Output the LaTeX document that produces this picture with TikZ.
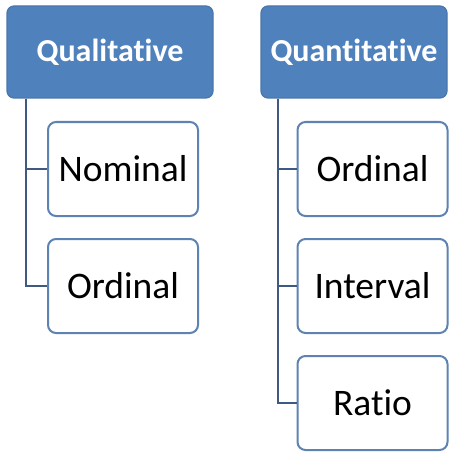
\documentclass[tikz,border=0pt]{standalone}
\usepackage{fontspec}
\setmainfont{Carlito}[Ligatures={NoCommon}]
\definecolor{hdrfill}{HTML}{4F81BD}
\definecolor{hdrdraw}{HTML}{4A76AC}
\definecolor{kiddraw}{HTML}{5E83B2}
\definecolor{conncol}{HTML}{3E5A80}
\begin{document}
\begin{tikzpicture}[x=1pt,y=-1pt,
  hdr/.style={draw=hdrdraw,fill=hdrfill,line width=1.2pt,rounded corners=7pt,inner sep=0pt,
    minimum height=92pt,text=white,font=\fontsize{32}{38}\selectfont\bfseries},
  kid/.style={draw=kiddraw,fill=white,line width=2pt,rounded corners=8pt,inner sep=0pt,
    minimum width=150pt,minimum height=94pt,text=black,font=\fontsize{37.5}{44}\selectfont},
  conn/.style={draw=conncol,line width=2pt}]
\useasboundingbox (0,0) rectangle (476,468);
% headers
\node[hdr,minimum width=206pt] (qual) at (110,52) {Qualitative};
\node[hdr,minimum width=186pt] (quant) at (354,52) {Quantitative};
% left children
\node[kid] (nom) at (123,169) {Nominal};
\node[kid] (ordL) at (123,286) {Ordinal};
% right children
\node[kid] (ordR) at (372.5,169) {Ordinal};
\node[kid] (intv) at (372.5,286) {Interval};
\node[kid] (ratio) at (372.5,403) {Ratio};
% connectors
\coordinate (lq) at ([xshift=20pt]qual.south west);
\coordinate (rq) at ([xshift=18pt]quant.south west);
\draw[conn] (lq) |- (ordL.west);
\draw[conn] (lq) |- (nom.west);
\draw[conn] (rq) |- (ratio.west);
\draw[conn] (rq) |- (intv.west);
\draw[conn] (rq) |- (ordR.west);
\end{tikzpicture}
\end{document}
